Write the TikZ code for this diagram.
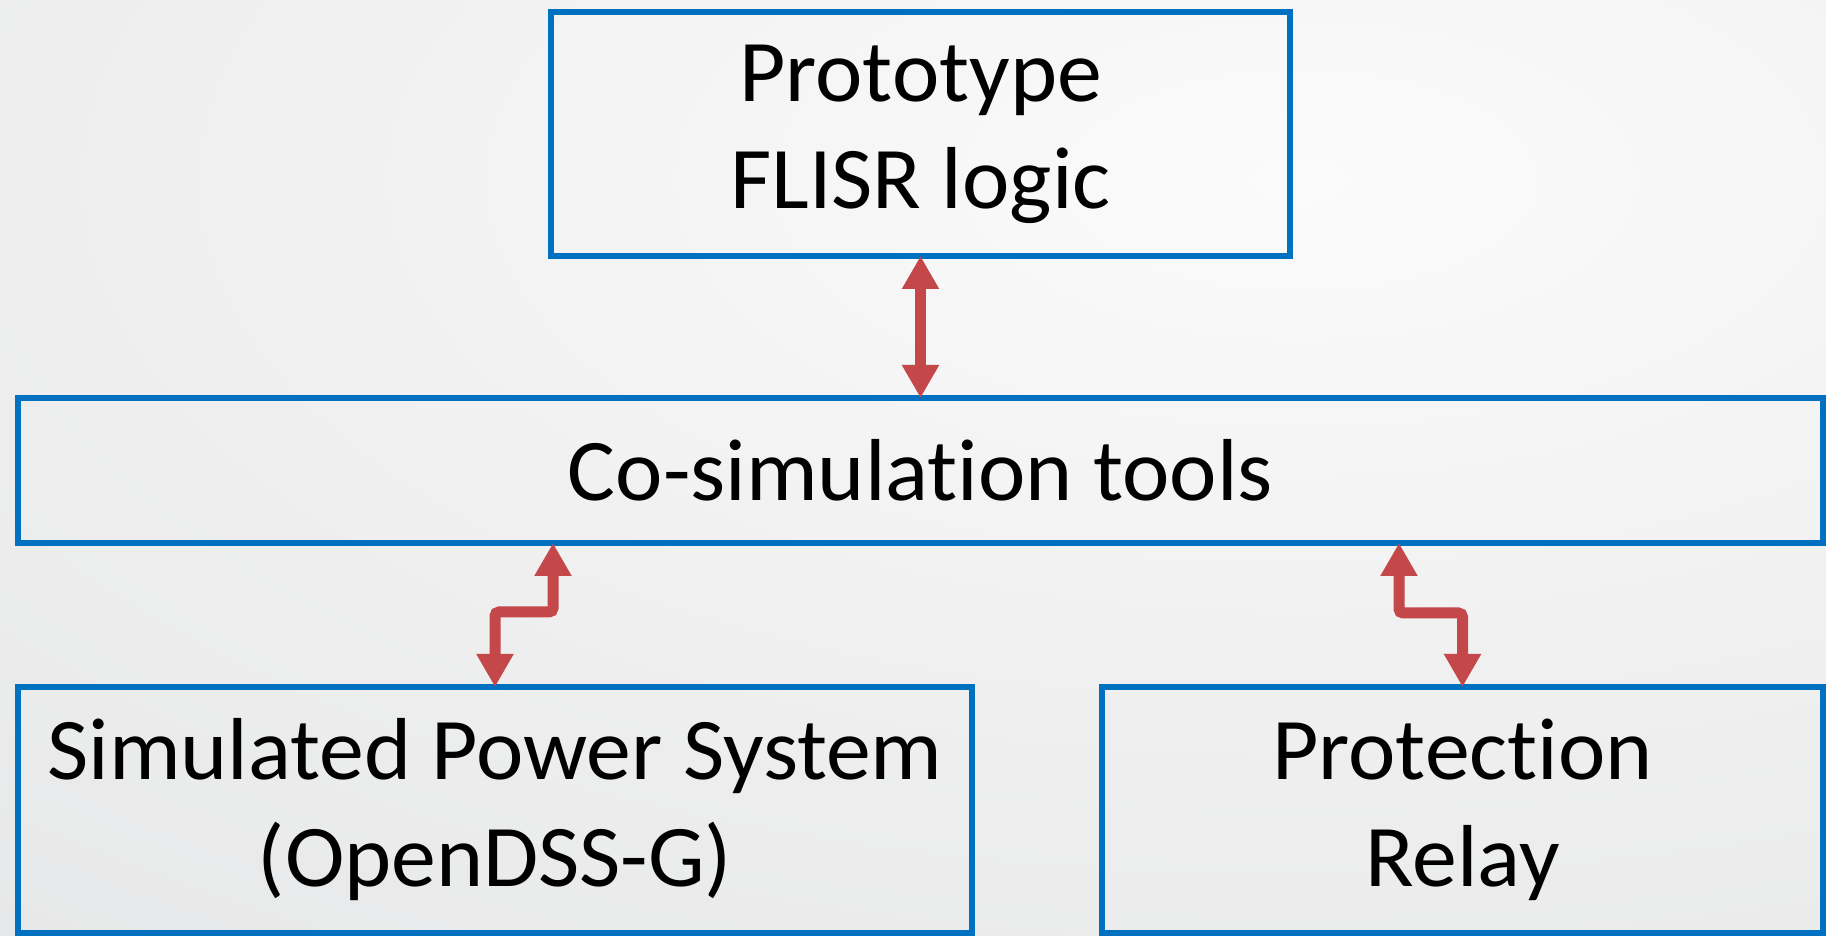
\documentclass[tikz,border=0pt]{standalone}
\usepackage{fontspec}
\setmainfont{Carlito}[FakeStretch=1.02,Ligatures=NoCommon]
\usetikzlibrary{arrows.meta}
\definecolor{boxblue}{RGB}{0,112,192}
\definecolor{arrowred}{RGB}{196,72,74}
\definecolor{bg0}{HTML}{FBFBFB}
\definecolor{bg1}{HTML}{EFEFEF}
\definecolor{bg2}{HTML}{E6E7E8}
\definecolor{bg3}{HTML}{DFE0E1}
\definecolor{bg4}{HTML}{CCCFD1}
\definecolor{bg5}{HTML}{C1C4C6}
\definecolor{bg6}{HTML}{B8BBBD}
\pgfdeclareradialshading{bgshade}{\pgfpoint{0bp}{0bp}}{color(0bp)=(bg0); color(10bp)=(bg1); color(19bp)=(bg2); color(23bp)=(bg3); color(27bp)=(bg4); color(35bp)=(bg5); color(50bp)=(bg6)}
\tikzset{
  box/.style={draw=boxblue, line width=6.5pt, inner sep=0pt, outer sep=0pt,
    align=center, text=black, font=\fontsize{88}{107}\selectfont},
  link/.style={draw=arrowred, line width=11pt, rounded corners=4pt,
    {Triangle[width=35pt,length=33pt]}-{Triangle[width=35pt,length=33pt]}}
}
\begin{document}
\begin{tikzpicture}[x=1pt,y=1pt]
\useasboundingbox (0,0) rectangle (1826,935);
\begin{scope}
\clip (0,0) rectangle (1826,935);
\fill[bg5] (0,0) rectangle (1826,935);
\shade[shading=bgshade] (1300,755) ellipse (2880pt and 1360pt);
\end{scope}
\node[box, minimum width=739pt, minimum height=244pt] (proto) at (920.5,801) {Prototype\\FLISR logic};
\node[box, minimum width=1805pt, minimum height=145pt] (cosim) at (920.5,464.5) {Co-simulation tools};
\node[box, minimum width=954pt, minimum height=246pt] (sps) at (495,125) {Simulated Power System\\(OpenDSS-G)};
\node[box, minimum width=721pt, minimum height=246pt] (relay) at (1462.5,125) {Protection\\Relay};
\draw[link] (proto.south) -- (cosim.north);
\draw[link] ([xshift=-367.5pt]cosim.south) |- ([yshift=75pt]sps.north) -- (sps.north);
\draw[link] ([xshift=478.5pt]cosim.south) |- ([yshift=74pt]relay.north) -- (relay.north);
\end{tikzpicture}
\end{document}
